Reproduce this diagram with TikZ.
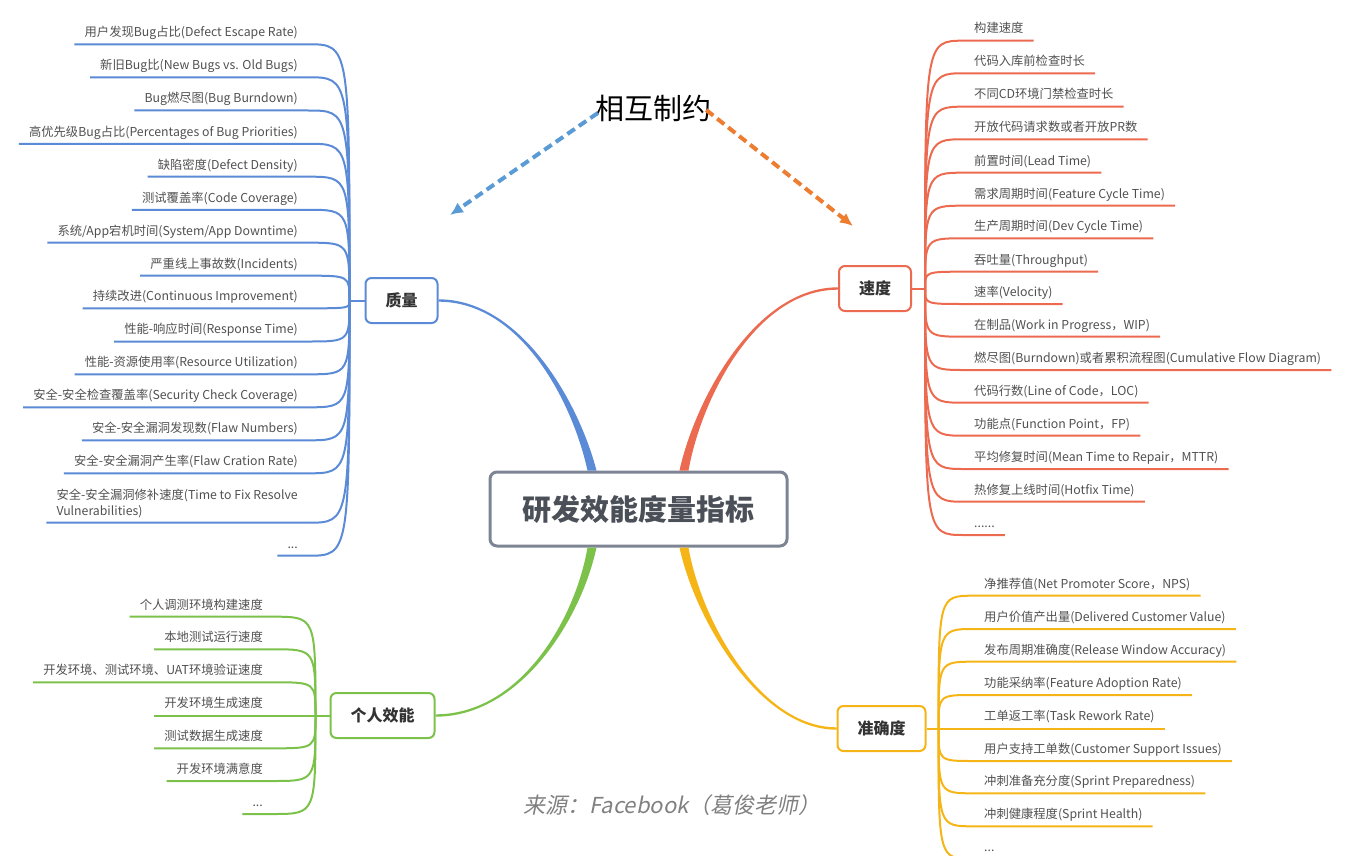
\documentclass[tikz,border=0pt]{standalone}
\usepackage{fontspec}
\setmainfont{Noto Sans CJK SC}
\newfontfamily\srcfont[FakeSlant=0.2]{Noto Sans CJK SC}
\usepackage{xcolor}
\usepackage{tikz}
\usetikzlibrary{calc, arrows.meta, positioning}

\definecolor{qblue}{HTML}{5B8BD6}
\definecolor{sred}{HTML}{EC6A50}
\definecolor{pgreen}{HTML}{7CC24A}
\definecolor{ayellow}{HTML}{F5B516}
\definecolor{rootline}{HTML}{7D8595}
\definecolor{roottext}{HTML}{4A4F58}
\definecolor{leafgray}{HTML}{505050}
\definecolor{arrblue}{HTML}{5B9BD5}
\definecolor{arrorange}{HTML}{ED7D31}

\tikzset{
  root/.style={draw=rootline, line width=3pt, rounded corners=7pt, fill=white,
    minimum width=297pt, minimum height=74pt, text=roottext,
    font=\bfseries\fontsize{29}{34}\selectfont},
  topic/.style={draw=#1, line width=2pt, rounded corners=6pt, fill=white,
    minimum height=45pt, inner xsep=20pt, text=black!80,
    font=\bfseries\fontsize{16}{19}\selectfont},
  leaf/.style={text=leafgray, inner xsep=10pt, inner ysep=5pt, text depth=.25em,
    align=left, font=\fontsize{12.3}{16}\selectfont},
  twig/.style={draw=#1, line width=2pt},
  darrow/.style={draw=#1, line width=4pt, dash pattern=on 9pt off 5pt,
    -{Latex[length=13pt,width=12pt]}}
}

% tapered main branch: colour, start, control 1, control 2, end, end offset
\newcommand{\trunk}[6]{%
  \fill[#1] ($(#2)+(-4.5,0)$) .. controls ($(#3)+(-3,0)$) and ($(#4)+(0,#6)$)
    .. ($(#5)+(0,#6)$) -- ($(#5)-(0,#6)$) .. controls ($(#4)-(0,#6)$) and ($(#3)+(3,0)$)
    .. ($(#2)+(4.5,0)$) -- cycle;}

\begin{document}
\begin{tikzpicture}[x=1pt, y=-1pt]
  \useasboundingbox (0,0) rectangle (1357,856);
  \clip (0,0) rectangle (1357,856);

  % 1. Center and main topics
  \node[root] (root) at (638.5,509) {研发效能度量指标};
  \node[topic=qblue] (quality) at (401.5,300.5) {质量};
  \node[topic=sred] (speed) at (875,288.5) {速度};
  \node[topic=pgreen] (personal) at (382.5,715.5) {个人效能};
  \node[topic=ayellow] (accuracy) at (881.5,728.5) {准确度};

  \trunk{qblue}{$(root.north)+(-46.5,0)$}{575,400}{520,300.5}{quality.east}{1.2}
  \trunk{sred}{$(root.north)+(45.5,0)$}{698,400}{755,288.5}{speed.west}{-1.2}
  \trunk{pgreen}{$(root.south)+(-46.5,0)$}{578,620}{520,715.5}{personal.east}{-1.2}
  \trunk{ayellow}{$(root.south)+(45.5,0)$}{698,620}{760,728.5}{accuracy.west}{1.2}

  % 2. Hubs
  \coordinate (qhub) at ($(quality.west)+(-15,0)$);
  \coordinate (shub) at ($(speed.east)+(13,0)$);
  \coordinate (phub) at ($(personal.west)+(-14,0)$);
  \coordinate (ahub) at ($(accuracy.east)+(12,0)$);
  \draw[twig=qblue] (quality.west) -- (qhub);
  \draw[twig=sred] (speed.east) -- (shub);
  \draw[twig=pgreen] (personal.west) -- (phub);
  \draw[twig=ayellow] (accuracy.east) -- (ahub);

  % 3. Quality leaves
  \foreach \y/\t [count=\i] in {44.3/{用户发现Bug占比(Defect Escape Rate)},
      77.3/{新旧Bug比(New Bugs vs. Old Bugs)}, 110.5/{Bug燃尽图(Bug Burndown)},
      143.8/{高优先级Bug占比(Percentages of Bug Priorities)}, 176.7/{缺陷密度(Defect Density)},
      209.8/{测试覆盖率(Code Coverage)}, 242.7/{系统/App宕机时间(System/App Downtime)},
      275.7/{严重线上事故数(Incidents)}, 308.3/{持续改进(Continuous Improvement)},
      341.5/{性能-响应时间(Response Time)}, 374.3/{性能-资源使用率(Resource Utilization)},
      407.3/{安全-安全检查覆盖率(Security Check Coverage)}, 440.3/{安全-安全漏洞发现数(Flaw Numbers)},
      473.3/{安全-安全漏洞产生率(Flaw Cration Rate)},
      522.7/{安全-安全漏洞修补速度(Time to Fix Resolve\\Vulnerabilities)}, 555.7/{...}} {
    \node[leaf, anchor=south east] (q\i) at (308,\y) {\t};
    \draw[twig=qblue] (q\i.south west) -- (q\i.south east)
      .. controls (qhub |- q\i.south east) .. (qhub);
  }

  % 4. Speed leaves
  \foreach \y/\t [count=\i] in {40.7/{构建速度}, 73.3/{代码入库前检查时长},
      106.7/{不同CD环境门禁检查时长}, 139.3/{开放代码请求数或者开放PR数},
      172.7/{前置时间(Lead Time)}, 205.7/{需求周期时间(Feature Cycle Time)},
      238.3/{生产周期时间(Dev Cycle Time)}, 271.7/{吞吐量(Throughput)},
      304/{速率(Velocity)}, 336.7/{在制品(Work in Progress，WIP)},
      370/{燃尽图(Burndown)或者累积流程图(Cumulative Flow Diagram)},
      402.7/{代码行数(Line of Code，LOC)}, 435.7/{功能点(Function Point，FP)},
      469/{平均修复时间(Mean Time to Repair，MTTR)}, 501.7/{热修复上线时间(Hotfix Time)},
      535/{......}} {
    \node[leaf, anchor=south west] (s\i) at (964,\y) {\t};
    \draw[twig=sred] (s\i.south east) -- (s\i.south west)
      .. controls (shub |- s\i.south west) .. (shub);
  }

  % 5. Personal leaves
  \foreach \y/\t [count=\i] in {616.7/{个人调测环境构建速度}, 649.3/{本地测试运行速度},
      682.3/{开发环境、测试环境、UAT环境验证速度}, 715.5/{开发环境生成速度},
      748.3/{测试数据生成速度}, 781/{开发环境满意度}, 814/{...}} {
    \node[leaf, anchor=south east] (p\i) at (273,\y) {\t};
    \draw[twig=pgreen] (p\i.south west) -- (p\i.south east)
      .. controls (phub |- p\i.south east) .. (phub);
  }

  % 6. Accuracy leaves
  \foreach \y/\t [count=\i] in {595.7/{净推荐值(Net Promoter Score，NPS)},
      629/{用户价值产出量(Delivered Customer Value)}, 661.7/{发布周期准确度(Release Window Accuracy)},
      695/{功能采纳率(Feature Adoption Rate)}, 728.5/{工单返工率(Task Rework Rate)},
      761/{用户支持工单数(Customer Support Issues)}, 793.3/{冲刺准备充分度(Sprint Preparedness)},
      826.3/{冲刺健康程度(Sprint Health)}, 859/{...}} {
    \node[leaf, anchor=south west] (a\i) at (974,\y) {\t};
    \draw[twig=ayellow] (a\i.south east) -- (a\i.south west)
      .. controls (ahub |- a\i.south west) .. (ahub);
  }

  % 7. Note and source
  \node[inner sep=0pt, font=\fontsize{29}{34}\selectfont] (note) at (653,108) {相互制约};
  \coordinate (qtip) at (450,215);
  \coordinate (stip) at (853,226);
  \draw[darrow=arrblue] ($(note.west)+(3,5)$) -- (qtip);
  \draw[darrow=arrorange] ($(note.east)+(-5,2)$) -- (stip);
  \node[text=black!50, font=\srcfont\fontsize{22}{26}\selectfont] (src) at (672,805)
    {来源：Facebook（葛俊老师）};
\end{tikzpicture}
\end{document}
